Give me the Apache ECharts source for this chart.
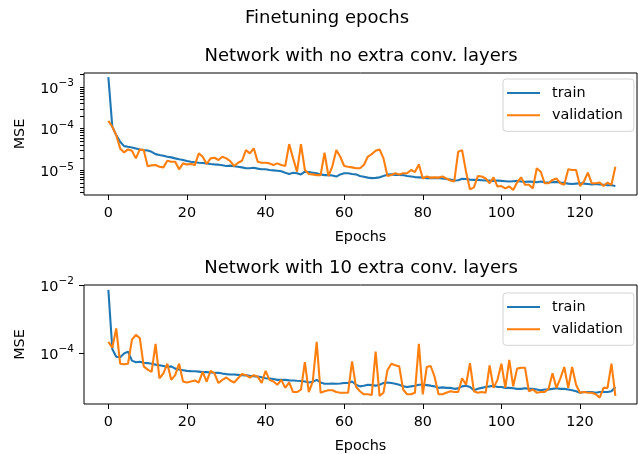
<!DOCTYPE html>
<html>
<head>
<meta charset="utf-8">
<script src="https://cdn.jsdelivr.net/npm/echarts@6/dist/echarts.min.js"></script>
<style>html,body{margin:0;padding:0;background:#fff;}#c{width:638px;height:454px;}</style>
</head>
<body>
<div id="c"></div>
<script>
// ---- data ----
var suptitle = 'Finetuning epochs';
var titleTop = 'Network with no extra conv. layers';
var titleBottom = 'Network with 10 extra conv. layers';
var seriesNames = ['train', 'validation'];
var xTickValues = [0, 20, 40, 60, 80, 100, 120];
var yMajorTop = [1e-5, 1e-4, 1e-3];
var yMinorTop = [3e-6, 4e-6, 5e-6, 6e-6, 7e-6, 8e-6, 9e-6,
                 2e-5, 3e-5, 4e-5, 5e-5, 6e-5, 7e-5, 8e-5, 9e-5,
                 2e-4, 3e-4, 4e-4, 5e-4, 6e-4, 7e-4, 8e-4, 9e-4, 2e-3];
var yMajorBottom = [1e-4, 1e-2];

var trainNoExtra = [
 1.73e-3, 1.11e-4, 7.0e-5, 4.85e-5, 3.82e-5, 3.68e-5, 3.55e-5, 3.36e-5, 3.18e-5, 3.06e-5,
 3.0e-5, 2.79e-5, 2.45e-5, 2.33e-5, 2.24e-5, 2.12e-5, 2.05e-5, 1.94e-5, 1.85e-5, 1.77e-5,
 1.67e-5, 1.61e-5, 1.57e-5, 1.52e-5, 1.50e-5, 1.47e-5, 1.42e-5, 1.39e-5, 1.37e-5, 1.32e-5,
 1.27e-5, 1.30e-5, 1.25e-5, 1.22e-5, 1.18e-5, 1.12e-5, 1.12e-5, 1.15e-5, 1.10e-5, 1.06e-5,
 1.06e-5, 1.02e-5, 1.0e-5, 9.8e-6, 9.5e-6, 8.8e-6, 8.2e-6, 8.8e-6, 8.5e-6, 8.0e-6,
 9.3e-6, 9.1e-6, 8.8e-6, 8.5e-6, 8.0e-6, 7.7e-6, 7.7e-6, 7.5e-6, 7.1e-6, 8.0e-6,
 8.5e-6, 8.5e-6, 8.2e-6, 8.0e-6, 7.3e-6, 7.0e-6, 6.7e-6, 6.5e-6, 6.6e-6, 6.8e-6,
 7.3e-6, 7.9e-6, 8.0e-6, 7.8e-6, 7.8e-6, 7.7e-6, 7.3e-6, 7.1e-6, 6.9e-6, 6.8e-6,
 6.7e-6, 6.5e-6, 6.6e-6, 6.5e-6, 6.6e-6, 6.4e-6, 6.2e-6, 6.0e-6, 5.7e-6, 5.8e-6,
 6.3e-6, 6.2e-6, 6.0e-6, 5.9e-6, 5.9e-6, 5.8e-6, 5.7e-6, 5.7e-6, 5.6e-6, 5.7e-6,
 5.6e-6, 5.5e-6, 5.4e-6, 5.5e-6, 5.6e-6, 5.4e-6, 5.3e-6, 5.4e-6, 5.3e-6, 5.2e-6,
 5.4e-6, 5.2e-6, 5.1e-6, 5.2e-6, 5.3e-6, 5.1e-6, 5.0e-6, 4.8e-6, 4.7e-6, 4.8e-6,
 4.9e-6, 4.8e-6, 4.7e-6, 4.6e-6, 4.7e-6, 4.6e-6, 4.5e-6, 4.4e-6, 4.4e-6, 4.2e-6];

var valNoExtra = [
 1.54e-4, 1.11e-4, 7.0e-5, 3.36e-5, 2.69e-5, 3.18e-5, 2.95e-5, 1.94e-5, 3.18e-5, 3.06e-5,
 1.25e-5, 1.32e-5, 1.34e-5, 1.22e-5, 1.18e-5, 1.70e-5, 1.61e-5, 1.61e-5, 1.06e-5, 1.47e-5,
 1.39e-5, 1.42e-5, 1.34e-5, 2.55e-5, 2.12e-5, 1.42e-5, 1.94e-5, 2.01e-5, 1.77e-5, 2.12e-5,
 1.94e-5, 1.67e-5, 1.27e-5, 1.52e-5, 1.70e-5, 3.06e-5, 2.55e-5, 3.36e-5, 1.61e-5, 1.52e-5,
 1.52e-5, 1.47e-5, 1.34e-5, 1.47e-5, 1.34e-5, 1.27e-5, 4.26e-5, 1.94e-5, 9.3e-6, 4.26e-5,
 1.02e-5, 8.2e-6, 8.0e-6, 7.7e-6, 7.7e-6, 2.64e-5, 7.3e-6, 1.27e-5, 3.06e-5, 2.12e-5,
 1.27e-5, 1.22e-5, 1.18e-5, 1.12e-5, 1.12e-5, 1.34e-5, 2.12e-5, 2.45e-5, 2.95e-5, 3.18e-5,
 1.94e-5, 7.3e-6, 7.7e-6, 8.5e-6, 8.0e-6, 8.5e-6, 8.5e-6, 1.02e-5, 9.1e-6, 1.39e-5,
 6.4e-6, 7.1e-6, 6.7e-6, 6.8e-6, 6.7e-6, 7.1e-6, 6.4e-6, 5.7e-6, 5.4e-6, 2.79e-5,
 3.06e-5, 9.3e-6, 3.5e-6, 3.9e-6, 7.3e-6, 7.1e-6, 6.4e-6, 4.9e-6, 6.8e-6, 4.1e-6,
 4.2e-6, 3.7e-6, 4.1e-6, 3.4e-6, 5.1e-6, 6.8e-6, 4.5e-6, 4.5e-6, 3.7e-6, 1.12e-5,
 9.3e-6, 4.9e-6, 4.9e-6, 5.9e-6, 6.4e-6, 4.9e-6, 4.5e-6, 1.06e-5, 1.02e-5, 1.02e-5,
 4.2e-6, 5.4e-6, 8.8e-6, 4.9e-6, 4.9e-6, 5.1e-6, 4.2e-6, 5.1e-6, 4.5e-6, 1.22e-5];

var train10Extra = [
 7.2e-3, 1.3e-4, 7.7e-5, 7.4e-5, 9.6e-5, 1.09e-4, 5.9e-5, 5.3e-5, 5.5e-5, 5.1e-5,
 5.0e-5, 4.8e-5, 4.5e-5, 4.3e-5, 4.1e-5, 3.83e-5, 4.0e-5, 3.43e-5, 3.22e-5, 3.08e-5,
 2.94e-5, 2.9e-5, 2.88e-5, 2.8e-5, 2.7e-5, 2.7e-5, 2.65e-5, 2.6e-5, 2.58e-5, 2.45e-5,
 2.37e-5, 2.3e-5, 2.3e-5, 2.25e-5, 2.2e-5, 2.17e-5, 2.1e-5, 2.05e-5, 2.0e-5, 1.9e-5,
 1.78e-5, 1.75e-5, 1.7e-5, 1.6e-5, 1.6e-5, 1.6e-5, 1.55e-5, 1.53e-5, 1.5e-5, 1.48e-5,
 1.43e-5, 1.34e-5, 1.4e-5, 1.6e-5, 1.34e-5, 1.23e-5, 1.23e-5, 1.25e-5, 1.23e-5, 1.25e-5,
 1.29e-5, 1.3e-5, 1.43e-5, 1.15e-5, 1.03e-5, 1.08e-5, 1.15e-5, 1.12e-5, 1.08e-5, 1.15e-5,
 1.29e-5, 1.34e-5, 1.29e-5, 1.23e-5, 1.15e-5, 1.03e-5, 9.9e-6, 1.03e-5, 1.08e-5, 1.15e-5,
 1.15e-5, 1.12e-5, 1.08e-5, 1.03e-5, 9.3e-6, 9.6e-6, 9.3e-6, 9.3e-6, 8.7e-6, 9.0e-6,
 1.03e-5, 1.08e-5, 9.9e-6, 7.9e-6, 8.7e-6, 9.3e-6, 9.9e-6, 1.03e-5, 1.08e-5, 9.9e-6,
 9.9e-6, 9.3e-6, 9.3e-6, 9.1e-6, 8.7e-6, 8.7e-6, 9.1e-6, 8.7e-6, 8.7e-6, 8.3e-6,
 7.9e-6, 8.3e-6, 8.3e-6, 8.7e-6, 9.1e-6, 8.7e-6, 8.7e-6, 8.3e-6, 7.9e-6, 7.4e-6,
 6.7e-6, 7.0e-6, 7.0e-6, 7.0e-6, 6.7e-6, 7.0e-6, 7.0e-6, 7.0e-6, 7.4e-6, 9.9e-6];

var val10Extra = [
 2.1e-4, 1.42e-4, 5.25e-4, 4.8e-5, 4.6e-5, 4.8e-5, 2.45e-4, 3.4e-4, 2.73e-4, 4.0e-5,
 3.22e-5, 2.75e-5, 1.84e-4, 1.78e-5, 2.5e-5, 4.8e-5, 1.6e-5, 2.2e-5, 4.8e-5, 1.43e-5,
 1.34e-5, 1.43e-5, 1.53e-5, 1.34e-5, 2.75e-5, 1.43e-5, 2.94e-5, 2.5e-5, 1.29e-5, 1.6e-5,
 1.88e-5, 1.53e-5, 1.34e-5, 1.78e-5, 2.37e-5, 2.2e-5, 1.88e-5, 2.2e-5, 1.99e-5, 1.29e-5,
 2.94e-5, 1.6e-5, 1.43e-5, 1.15e-5, 1.6e-5, 9.3e-6, 1.34e-5, 7.0e-6, 7.0e-6, 8.3e-6,
 5.3e-5, 7.0e-6, 1.43e-5, 2.1e-4, 6.7e-6, 7.4e-6, 7.9e-6, 7.9e-6, 7.0e-6, 6.7e-6,
 6.7e-6, 6.7e-6, 5.6e-5, 1.0e-5, 7.4e-6, 6.0e-6, 6.0e-6, 5.7e-6, 1.09e-4, 5.4e-6,
 6.7e-6, 3.08e-5, 4.8e-5, 4.3e-5, 4.0e-5, 8.3e-6, 6.0e-6, 6.0e-6, 6.7e-6, 1.84e-4,
 6.0e-6, 3.83e-5, 4.1e-5, 1.99e-5, 6.0e-6, 6.0e-6, 6.7e-6, 7.4e-6, 7.0e-6, 7.0e-6,
 1.78e-5, 1.15e-5, 5.0e-5, 7.4e-6, 6.7e-6, 7.0e-6, 6.7e-6, 4.3e-5, 9.3e-6, 1.6e-5,
 4.8e-5, 9.3e-6, 6.2e-5, 1.03e-5, 3.43e-5, 3.65e-5, 3.65e-5, 7.4e-6, 8.3e-6, 6.7e-6,
 7.0e-6, 7.0e-6, 8.7e-6, 2.5e-5, 9.3e-6, 1.78e-5, 3.83e-5, 9.3e-6, 3.83e-5, 1.15e-5,
 6.7e-6, 7.0e-6, 6.7e-6, 6.7e-6, 6.0e-6, 4.8e-6, 9.3e-6, 9.3e-6, 4.8e-5, 5.4e-6];

// ---- chart ----
var FONT = 'DejaVu Sans';
var FS = 14.4;
var BLUE = '#1f77b4', ORANGE = '#ff7f0e';
var GRID_W = 553;
var X_MIN = -6.2, X_MAX = 134.5;
function pairs(arr) { return arr.map(function (v, i) { return [i, v]; }); }
function logLabel(v) {
  var e = Math.round(Math.log(v) / Math.LN10);
  return '{b|10}{s|' + (e < 0 ? '\u2212' : '') + Math.abs(e) + '}';
}
var richLabel = {
  b: { fontSize: FS, fontFamily: FONT, color: '#000', lineHeight: 18, verticalAlign: 'bottom' },
  s: { fontSize: 10.5, fontFamily: FONT, color: '#000', lineHeight: 18, verticalAlign: 'top' }
};

function xAxisCfg(gridIndex) {
  return {
    type: 'value', gridIndex: gridIndex, min: X_MIN, max: X_MAX,
    name: 'Epochs', nameLocation: 'middle', nameGap: 35,
    nameTextStyle: { fontSize: FS, fontFamily: FONT, color: '#000' },
    axisLine: { show: false, onZero: false },
    splitLine: { show: false },
    axisTick: { show: true, length: 5, customValues: xTickValues, lineStyle: { color: '#000', width: 1 } },
    axisLabel: { show: true, margin: 11, customValues: xTickValues, fontSize: FS, fontFamily: FONT, color: '#000' }
  };
}
function yAxisCfg(gridIndex, min, max, labels, ticks, tickLen) {
  return {
    type: 'log', logBase: 10, gridIndex: gridIndex, position: 'left', min: min, max: max,
    name: 'MSE', nameLocation: 'middle', nameGap: 57, nameRotate: 90,
    nameTextStyle: { fontSize: FS, fontFamily: FONT, color: '#000' },
    axisLine: { show: false, onZero: false },
    splitLine: { show: false },
    minorTick: { show: false },
    axisTick: { show: true, length: tickLen, customValues: ticks, lineStyle: { color: '#000', width: 1 } },
    axisLabel: { show: true, margin: 10, customValues: labels, formatter: logLabel, rich: richLabel }
  };
}
function legendCfg(top) {
  return {
    data: seriesNames, orient: 'vertical', left: 503, top: top,
    padding: [7, 11, 9, 4], itemGap: 8.3, itemWidth: 33, itemHeight: 2,
    icon: 'rect', selectedMode: false,
    borderColor: '#d4d4d4', borderWidth: 1, borderRadius: 3,
    backgroundColor: 'rgba(255,255,255,0.8)',
    textStyle: { fontSize: FS, fontFamily: FONT, color: '#000', padding: [0, 0, 0, 7] }
  };
}
function lineSeries(name, data, xi, yi, color) {
  return {
    type: 'line', name: name, data: pairs(data), xAxisIndex: xi, yAxisIndex: yi,
    showSymbol: false, symbol: 'none', animation: false, clip: true,
    lineStyle: { color: color, width: 2.1 }, itemStyle: { color: color }
  };
}

var chart = echarts.init(document.getElementById('c'), null, { renderer: 'canvas' });
chart.setOption({
  animation: false,
  backgroundColor: '#fff',
  textStyle: { fontFamily: FONT },
  grid: [
    { left: 84, top: 73, width: GRID_W, height: 122, show: true, borderColor: '#000', borderWidth: 1, backgroundColor: 'transparent' },
    { left: 84, top: 285, width: GRID_W, height: 123, show: true, borderColor: '#000', borderWidth: 1, backgroundColor: 'transparent' }
  ],
  xAxis: [xAxisCfg(0), xAxisCfg(1)],
  yAxis: [
    yAxisCfg(0, 2.565e-6, 2.163e-3, yMajorTop, yMajorTop.concat(yMinorTop), 4),
    yAxisCfg(1, 3.11e-6, 1.002e-2, yMajorBottom, yMajorBottom, 5)
  ],
  legend: [legendCfg(79), legendCfg(293)],
  graphic: [
    { type: 'text', x: 327, y: 18, style: { text: suptitle, font: '18px "DejaVu Sans"', fill: '#000', textAlign: 'center', textVerticalAlign: 'middle' } },
    { type: 'text', x: 361, y: 56, style: { text: titleTop, font: '18px "DejaVu Sans"', fill: '#000', textAlign: 'center', textVerticalAlign: 'middle' } },
    { type: 'text', x: 361, y: 268, style: { text: titleBottom, font: '18px "DejaVu Sans"', fill: '#000', textAlign: 'center', textVerticalAlign: 'middle' } }
  ],
  series: [
    lineSeries(seriesNames[0], trainNoExtra, 0, 0, BLUE),
    lineSeries(seriesNames[1], valNoExtra, 0, 0, ORANGE),
    lineSeries(seriesNames[0], train10Extra, 1, 1, BLUE),
    lineSeries(seriesNames[1], val10Extra, 1, 1, ORANGE)
  ]
});
</script>
</body>
</html>
